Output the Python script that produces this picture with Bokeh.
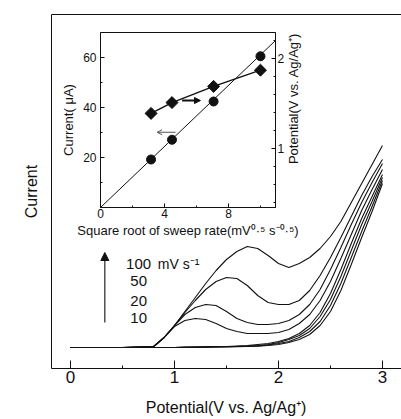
import numpy as np
from bokeh.plotting import figure
from bokeh.models import Range1d, LinearAxis, Arrow, NormalHead, OpenHead, Label, FixedTicker, GridBox
from bokeh.embed import file_html
from bokeh.resources import INLINE

FONT = "Liberation Sans"
INK = "#111111"

# ---------------- main chart data (current in arbitrary units) ----------------
potential_v = [0.0, 0.5, 0.8, 0.9, 1.0, 1.1, 1.2, 1.3, 1.4, 1.5, 1.6, 1.7, 1.8,
               1.9, 2.0, 2.1, 2.2, 2.3, 2.4, 2.5, 2.6, 2.7, 2.8, 2.9, 3.0]
cv_100 = [0, 0, 1, 10, 22, 36, 50, 64, 77, 88, 96, 101, 99, 92, 84, 80, 84, 90, 99, 111, 126, 145, 164, 183, 202]
cv_50 = [0, 0, 1, 10, 22, 35, 47, 58, 66, 70, 69, 62, 52, 45, 43, 43, 47, 57, 72, 90, 110, 131, 152, 171, 188]
cv_20 = [0, 0, 1, 10, 22, 33, 40, 43, 42, 36, 29, 25, 23, 23, 24, 27, 33, 43, 58, 78, 100, 123, 145, 165, 184]
cv_10 = [0, 0, 1, 10, 21, 27, 29, 28, 24, 19, 16, 14, 14, 14, 15, 18, 24, 33, 47, 66, 89, 113, 137, 158, 178]
bg_1 = [0, 0, 0, 0, 0, 0.3, 0.5, 0.7, 1, 1, 1.5, 2, 3, 4, 6, 9, 14, 22, 35, 54, 78, 104, 129, 151, 173]
bg_2 = [0, 0, 0, 0, 0, 0.2, 0.4, 0.6, 0.8, 1, 1.2, 1.5, 2, 3, 5, 8, 12, 19, 31, 48, 71, 97, 123, 146, 170]
bg_3 = [0, 0, 0, 0, 0, 0.2, 0.3, 0.5, 0.6, 0.8, 1, 1.2, 1.6, 2.5, 4, 6, 10, 16, 26, 42, 64, 90, 116, 141, 167]
bg_4 = [0, 0, 0, 0, 0, 0.1, 0.2, 0.4, 0.5, 0.6, 0.8, 1, 1.3, 2, 3, 5, 8, 13, 22, 36, 57, 83, 110, 136, 164]
main_ticks = [0, 1, 2, 3]
main_minor = [0.5, 1.5, 2.5]
rate_labels = ["100", "50", "20", "10"]
rate_unit = "mV s\u207b\u00b9"

# ---------------- inset data ----------------
sqrt_rate = [3.16, 4.47, 7.07, 10.0]
peak_current = [19.2, 27.1, 42.4, 60.5]
peak_potential = [1.39, 1.51, 1.69, 1.87]
fit_x = [0.0, 10.94]
fit_y = [0.0, 66.8]
inset_x_ticks = [0, 4, 8]
inset_y_ticks = [20, 40, 60]
inset_pot_ticks = [1, 2]


def style_axis(ax, tick_size, label_size):
    ax.axis_line_color = INK
    ax.major_tick_line_color = INK
    ax.minor_tick_line_color = INK
    ax.major_label_text_font = FONT
    ax.major_label_text_color = INK
    ax.major_label_text_font_size = tick_size
    ax.axis_label_text_font = FONT
    ax.axis_label_text_font_size = label_size
    ax.axis_label_text_font_style = "normal"
    ax.axis_label_text_color = INK


# ---------------- main figure ----------------
main = figure(frame_width=350, frame_height=354, output_backend="svg", toolbar_location=None,
              title=None,
              x_range=Range1d(-0.183, 3.183), y_range=Range1d(-21, 333),
              min_border_left=51, min_border_right=40, min_border_top=14, min_border_bottom=51,
              x_axis_location=None, y_axis_location=None)
main.outline_line_color = None
main.xgrid.visible = False
main.ygrid.visible = False

bx = LinearAxis(ticker=FixedTicker(ticks=main_ticks, minor_ticks=main_minor),
                axis_label="Potential(V vs. Ag/Ag\u207a)")
style_axis(bx, "17px", "16px")
bx.major_tick_in = 8
bx.major_tick_out = 0
bx.minor_tick_in = 3
bx.minor_tick_out = 0
bx.major_label_standoff = 2
bx.axis_label_standoff = 13
main.add_layout(bx, "below")

ly = LinearAxis(ticker=FixedTicker(ticks=[]), axis_label="Current")
style_axis(ly, "1px", "16px")
ly.major_tick_in = 0
ly.major_tick_out = 0
ly.axis_label_standoff = 12
main.add_layout(ly, "left")

ty = LinearAxis(ticker=FixedTicker(ticks=[]))
style_axis(ty, "1px", "1px")
ty.major_tick_in = 0
ty.major_tick_out = 0
main.add_layout(ty, "above")

for series in [cv_100, cv_50, cv_20, cv_10, bg_1, bg_2, bg_3, bg_4]:
    main.line(potential_v, series, line_color=INK, line_width=1.1)

main.add_layout(Arrow(end=NormalHead(size=8, fill_color=INK, line_color=INK, line_width=1),
                      x_start=0.33, y_start=25, x_end=0.33, y_end=95,
                      line_color=INK, line_width=1.1))
label_y = [84, 67, 47, 30]
for txt, yy in zip(rate_labels, label_y):
    main.add_layout(Label(x=0.655, y=yy, text=txt, text_align="center", text_baseline="middle",
                          text_font=FONT, text_font_size="15px", text_color=INK))
main.add_layout(Label(x=0.84, y=84, text=rate_unit, text_align="left", text_baseline="middle",
                      text_font=FONT, text_font_size="14px", text_color=INK))

# right-axis title of the inset (drawn on the main canvas, reading bottom to top)
main.add_layout(Label(x=2.144, y=249, angle=np.pi / 2,
                      text="Potential(V vs. Ag/Ag\u207a)", text_align="center", text_baseline="middle",
                      text_font=FONT, text_font_size="13px", text_color=INK))

# ---------------- inset figure ----------------
# borders match the main figure's (the shared grid cell aligns them); margin offsets the frame
inset = figure(frame_width=175, frame_height=175, output_backend="svg", toolbar_location=None,
               title=None,
               x_range=Range1d(0, 10.94), y_range=Range1d(0, 70),
               min_border_left=51, min_border_right=40, min_border_top=14, min_border_bottom=51,
               x_axis_location=None, y_axis_location=None)
inset.extra_y_ranges = {"pot": Range1d(0.344, 2.289)}
inset.outline_line_color = INK
inset.xgrid.visible = False
inset.ygrid.visible = False
inset.background_fill_alpha = 0
inset.border_fill_alpha = 0
inset.margin = (18, 0, 0, 49)

ix = LinearAxis(ticker=FixedTicker(ticks=inset_x_ticks, minor_ticks=[2, 6, 10]),
                axis_label="Square root of sweep rate(mV\u2070\u00b7\u2075 s\u207b\u2070\u00b7\u2075)")
style_axis(ix, "12px", "13px")
ix.major_tick_in = 4
ix.major_tick_out = 0
ix.minor_tick_in = 2
ix.minor_tick_out = 0
ix.major_label_standoff = 1
ix.axis_label_standoff = 2
inset.add_layout(ix, "below")

iy = LinearAxis(ticker=FixedTicker(ticks=inset_y_ticks, minor_ticks=[10, 30, 50]),
                axis_label="Current( \u03bcA)")
style_axis(iy, "12px", "13px")
iy.major_tick_in = 4
iy.major_tick_out = 0
iy.minor_tick_in = 2
iy.minor_tick_out = 0
iy.major_label_standoff = 4
iy.axis_label_standoff = 4
inset.add_layout(iy, "left")

ry = LinearAxis(y_range_name="pot",
                ticker=FixedTicker(ticks=inset_pot_ticks, minor_ticks=[0.4, 0.6, 0.8, 1.2, 1.4, 1.6, 1.8, 2.2]))
style_axis(ry, "12px", "13px")
ry.major_tick_in = 4
ry.major_tick_out = 0
ry.minor_tick_in = 2
ry.minor_tick_out = 0
ry.major_label_standoff = 2
inset.add_layout(ry, "right")

inset.line(fit_x, fit_y, line_color=INK, line_width=1)
inset.scatter(sqrt_rate, peak_current, marker="circle", size=9, color=INK)
inset.line(sqrt_rate, peak_potential, y_range_name="pot", line_color=INK, line_width=1.4)
inset.scatter(sqrt_rate, peak_potential, y_range_name="pot", marker="square",
              angle=np.pi / 4, size=8.5, color=INK)

inset.add_layout(Arrow(end=NormalHead(size=6, fill_color=INK, line_color=INK),
                       x_start=5.1, y_start=42.8, x_end=6.25, y_end=42.8,
                       line_color=INK, line_width=1.8))
inset.add_layout(Arrow(end=OpenHead(size=5, line_color="#555555", line_width=1),
                       x_start=4.69, y_start=30.1, x_end=3.54, y_end=30.1,
                       line_color="#555555", line_width=1))

layout = GridBox(children=[(main, 0, 0), (inset, 0, 0)])
open("out.html", "w").write(file_html(layout, INLINE))
